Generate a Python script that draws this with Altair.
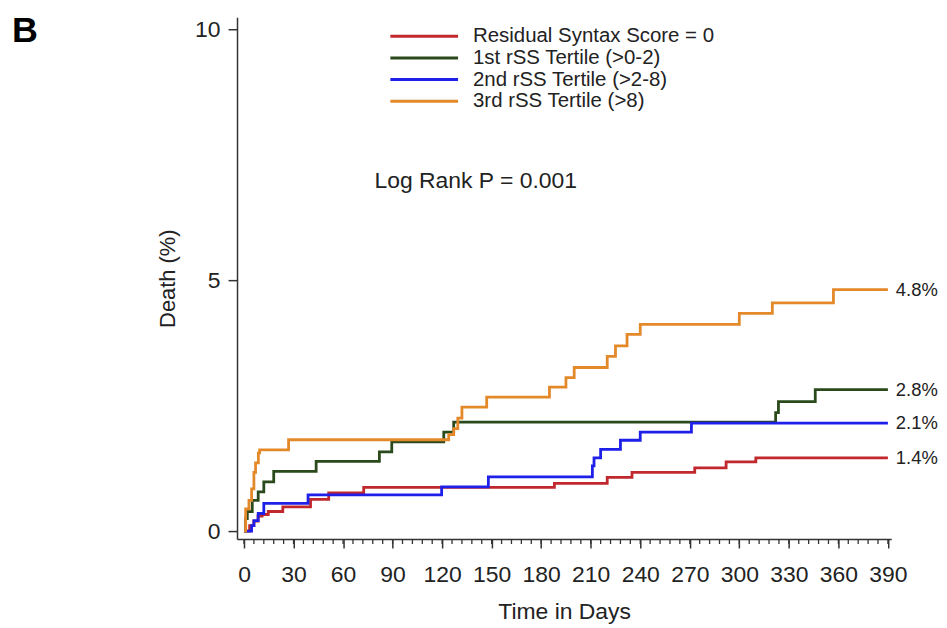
import altair as alt
import pandas as pd

# ---------------- data ----------------
series = ["Residual Syntax Score = 0", "1st rSS Tertile (>0-2)",
          "2nd rSS Tertile (>2-8)", "3rd rSS Tertile (>8)"]
colors = ["#C0282D", "#2B4A1C", "#1F1FEA", "#E3892A"]
end_labels = ["1.4%", "2.8%", "2.1%", "4.8%"]

red_t = [0, 3.4, 6, 8.5, 11, 14.7, 23.5, 40.3, 51.3, 72.5, 188, 220, 235, 273, 292, 310, 390]
red_v = [0, 0.11, 0.2, 0.3, 0.33, 0.39, 0.48, 0.63, 0.76, 0.87, 0.95, 1.07, 1.17, 1.26, 1.38, 1.46, 1.46]

green_t = [0, 1, 2, 5, 8.6, 12, 18, 43.7, 82, 89.5, 121, 127, 322, 323.7, 346, 390]
green_v = [0, 0.25, 0.39, 0.61, 0.78, 0.98, 1.19, 1.39, 1.58, 1.78, 1.97, 2.17, 2.36, 2.58, 2.82, 2.82]

blue_t = [0, 4.6, 6, 8.6, 12, 38.8, 119.7, 148, 211, 212, 216, 228, 240, 271, 390]
blue_v = [0, 0.11, 0.21, 0.35, 0.55, 0.72, 0.88, 1.08, 1.3, 1.46, 1.63, 1.81, 1.97, 2.15, 2.15]

orange_t = [0, 1, 3, 4.6, 6, 7, 8.7, 9.5, 27, 124, 127, 129.5, 132, 147, 185, 195, 200,
            220, 225, 232, 240, 300, 320, 357, 390]
orange_v = [0, 0.44, 0.61, 0.84, 1.17, 1.36, 1.56, 1.62, 1.82, 1.92, 2.04, 2.25, 2.47, 2.67,
            2.87, 3.06, 3.26, 3.48, 3.69, 3.92, 4.12, 4.34, 4.55, 4.81, 4.81]

x_ticks = [0, 30, 60, 90, 120, 150, 180, 210, 240, 270, 300, 330, 360, 390]
x_minor_ticks = list(range(0, 391, 6))
y_ticks = [0, 5, 10]

annotation = "Log Rank P = 0.001"
panel_letter = "B"

# ---------------- build tables ----------------
all_t = [red_t, green_t, blue_t, orange_t]
all_v = [red_v, green_v, blue_v, orange_v]
rows = []
for k, (name, ts, vs) in enumerate(zip(series, all_t, all_v)):
    for t, v in zip(ts, vs):
        rows.append({"series": name, "k": k, "t": t, "v": v})
df = pd.DataFrame(rows)

df_end = pd.DataFrame({
    "series": series,
    "t": [ts[-1] for ts in all_t],
    "v": [vs[-1] for vs in all_v],
    "label": end_labels,
})

FONT = "Liberation Sans, Arial, Helvetica, sans-serif"
AX = "#333333"
W, H = 657, 524

xscale = alt.Scale(domain=[-4.23, 392.0], nice=False, zero=False)
yscale = alt.Scale(domain=[-0.159, 10.24], nice=False, zero=False)
cscale = alt.Scale(domain=series, range=colors)

curves = []
for k, name in enumerate(series):
    c = alt.Chart(df[df["series"] == name]).mark_line(
        interpolate="step-after", strokeWidth=2.8
    ).encode(
        x=alt.X("t:Q", scale=xscale, axis=alt.Axis(
            values=x_ticks, title="Time in Days", tickSize=9, labelPadding=16,
            titlePadding=14, labelFontSize=23, titleFontSize=23,
            titleFontWeight="normal", grid=False)),
        y=alt.Y("v:Q", scale=yscale, axis=alt.Axis(
            values=y_ticks, title="Death (%)", tickSize=9, labelPadding=8,
            titlePadding=15, labelFontSize=23, titleFontSize=22,
            titleFontWeight="normal", grid=False)),
        color=alt.Color("series:N", scale=cscale, legend=None),
        order=alt.Order("t:Q"),
    )
    curves.append(c)

minor = alt.Chart(pd.DataFrame({"t": x_minor_ticks})).mark_rule(
    color=AX, strokeWidth=1.3
).encode(x=alt.X("t:Q"), y=alt.value(H), y2=alt.value(H + 5))

ends = alt.Chart(df_end).mark_text(
    align="left", baseline="middle", dx=8, fontSize=18.5, font=FONT, color="#222222"
).encode(x="t:Q", y="v:Q", text="label:N")

legend_layers = []
for i, (name, col) in enumerate(zip(series, colors)):
    yy = 19 + 21.8 * i
    d = pd.DataFrame({"series": [name]})
    legend_layers.append(
        alt.Chart(d).mark_rule(color=col, strokeWidth=3).encode(
            x=alt.value(154), x2=alt.value(222), y=alt.value(yy))
    )
    legend_layers.append(
        alt.Chart(d).mark_text(align="left", baseline="middle", fontSize=20.5,
                               font=FONT, color="#222222").encode(
            x=alt.value(237), y=alt.value(yy), text="series:N")
    )

logrank = alt.Chart(pd.DataFrame({"txt": [annotation]})).mark_text(
    align="left", baseline="middle", fontSize=23, font=FONT, color="#222222"
).encode(x=alt.value(138), y=alt.value(164), text="txt:N")

letter = alt.Chart(pd.DataFrame({"txt": [panel_letter]})).mark_text(
    align="left", baseline="alphabetic", fontSize=36, fontWeight="bold", font=FONT, color="#000000"
).encode(x=alt.value(-226), y=alt.value(25), text="txt:N")

chart = alt.layer(
    *curves, minor, ends, *legend_layers, logrank, letter
).properties(
    width=W, height=H,
    autosize=alt.AutoSizeParams(type="none"),
    padding={"left": 230, "top": 8, "right": 48, "bottom": 84},
).configure_view(stroke=None).configure_axis(
    domainColor=AX, domainWidth=1.5, tickColor=AX, tickWidth=1.5,
    labelColor="#222222", titleColor="#222222", labelFont=FONT, titleFont=FONT,
)

chart.save("out.html", embed_options={"renderer": "svg", "actions": False})
